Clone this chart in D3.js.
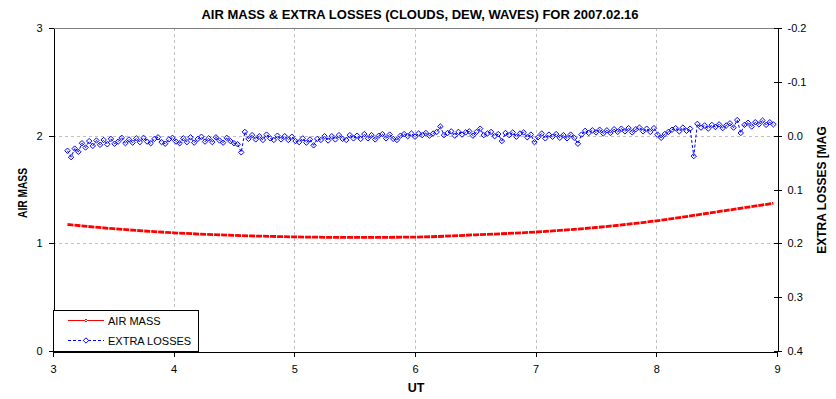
<!DOCTYPE html>
<html>
<head>
<meta charset="utf-8">
<script src="https://cdn.jsdelivr.net/npm/d3@7"></script>
<style>
  body { margin: 0; background: #fff; }
  svg { font-family: "Liberation Sans", Arial, sans-serif; }
  .grid line { stroke: #c0c0c0; stroke-dasharray: 3,3; shape-rendering: crispEdges; }
  .axis path, .axis line { stroke: #000; shape-rendering: crispEdges; }
  .axis text { font-family: "Liberation Sans", Arial, sans-serif; font-size: 11px; fill: #000; }
  .label { font-weight: bold; fill: #000; }
</style>
</head>
<body>
<div id="chart"></div>
<script>
const title = 'AIR MASS & EXTRA LOSSES (CLOUDS, DEW, WAVES) FOR 2007.02.16';

const xTicks = [3, 4, 5, 6, 7, 8, 9];
const airMassTicks = [0, 1, 2, 3];
const lossTicks = [-0.2, -0.1, 0.0, 0.1, 0.2, 0.3, 0.4];

// air mass
const airMassUt = [3.12, 3.5, 4.0, 4.5, 5.0, 5.5, 6.0, 6.5, 7.0, 7.5, 8.0, 8.5, 8.97];
const airMass = [1.175, 1.136, 1.098, 1.074, 1.060, 1.055, 1.058, 1.079, 1.105, 1.147, 1.209, 1.292, 1.372];

// extra losses [mag]
const lossUt = [
  3.12, 3.15, 3.18, 3.21, 3.24, 3.27, 3.30, 3.33, 3.36, 3.39,
  3.42, 3.45, 3.48, 3.51, 3.54, 3.57, 3.60, 3.63, 3.66, 3.69,
  3.72, 3.75, 3.78, 3.81, 3.84, 3.87, 3.90, 3.93, 3.96, 3.99,
  4.02, 4.05, 4.08, 4.11, 4.14, 4.17, 4.20, 4.23, 4.26, 4.29,
  4.32, 4.35, 4.38, 4.41, 4.44, 4.47, 4.50, 4.53, 4.56, 4.59,
  4.62, 4.65, 4.68, 4.71, 4.74, 4.77, 4.80, 4.83, 4.86, 4.89,
  4.92, 4.95, 4.98, 5.01, 5.04, 5.07, 5.10, 5.13, 5.16, 5.19,
  5.22, 5.25, 5.28, 5.31, 5.34, 5.37, 5.40, 5.43, 5.46, 5.49,
  5.52, 5.55, 5.58, 5.61, 5.64, 5.67, 5.70, 5.73, 5.76, 5.79,
  5.82, 5.85, 5.88, 5.91, 5.94, 5.97, 6.00, 6.03, 6.06, 6.09,
  6.12, 6.15, 6.18, 6.21, 6.24, 6.27, 6.30, 6.33, 6.36, 6.39,
  6.42, 6.45, 6.48, 6.51, 6.54, 6.57, 6.60, 6.63, 6.66, 6.69,
  6.72, 6.75, 6.78, 6.81, 6.84, 6.87, 6.90, 6.93, 6.96, 6.99,
  7.02, 7.05, 7.08, 7.11, 7.14, 7.17, 7.20, 7.23, 7.26, 7.29,
  7.32, 7.35, 7.38, 7.41, 7.44, 7.47, 7.50, 7.53, 7.56, 7.59,
  7.62, 7.65, 7.68, 7.71, 7.74, 7.77, 7.80, 7.83, 7.86, 7.89,
  7.92, 7.95, 7.98, 8.01, 8.04, 8.07, 8.10, 8.13, 8.16, 8.19,
  8.22, 8.25, 8.28, 8.31, 8.34, 8.37, 8.40, 8.43, 8.46, 8.49,
  8.52, 8.55, 8.58, 8.61, 8.64, 8.67, 8.70, 8.73, 8.76, 8.79,
  8.82, 8.85, 8.88, 8.91, 8.94, 8.97
];
const extraLoss = [
  0.028, 0.040, 0.024, 0.030, 0.014, 0.022, 0.010, 0.019, 0.009, 0.017,
  0.008, 0.016, 0.006, 0.015, 0.011, 0.004, 0.014, 0.007, 0.013, 0.005,
  0.012, 0.004, 0.011, 0.014, 0.006, 0.003, 0.012, 0.015, 0.007, 0.004,
  0.011, 0.014, 0.005, 0.012, 0.003, 0.013, 0.006, 0.002, 0.011, 0.005,
  0.012, 0.003, 0.009, 0.013, 0.004, 0.010, 0.014, 0.016, 0.031, -0.007,
  0.006, -0.001, 0.007, 0.001, 0.008, -0.002, 0.005, 0.008, 0.000, 0.007,
  0.001, 0.008, 0.002, 0.010, 0.012, 0.005, 0.013, 0.007, 0.018, 0.006,
  0.008, 0.001, 0.009, 0.001, 0.007, -0.001, 0.006, 0.008, -0.001, 0.005,
  0.000, 0.006, -0.003, 0.005, -0.001, 0.007, 0.000, -0.003, 0.005, -0.002,
  0.006, 0.008, 0.000, -0.003, 0.001, -0.004, 0.002, -0.004, -0.001, -0.005,
  0.000, -0.004, -0.007, -0.017, -0.001, -0.005, -0.008, 0.000, -0.007, -0.002,
  -0.006, -0.008, 0.000, -0.007, -0.013, -0.001, -0.004, -0.007, 0.001, -0.003,
  0.010, -0.005, -0.001, -0.006, 0.002, -0.004, -0.006, 0.003, -0.002, 0.012,
  0.003, -0.004, 0.005, -0.002, 0.002, -0.003, 0.004, -0.001, 0.005, -0.002,
  0.004, 0.015, -0.002, -0.009, -0.005, -0.010, -0.006, -0.011, -0.004, -0.010,
  -0.005, -0.012, -0.007, -0.013, -0.008, -0.014, -0.006, -0.012, -0.015, -0.008,
  -0.013, -0.007, -0.014, -0.002, 0.004, -0.003, -0.007, -0.011, -0.014, -0.008,
  -0.015, -0.009, -0.013, 0.038, -0.022, -0.015, -0.019, -0.013, -0.020, -0.016,
  -0.021, -0.014, -0.019, -0.023, -0.015, -0.029, -0.005, -0.020, -0.024, -0.017,
  -0.025, -0.021, -0.028, -0.020, -0.025, -0.021
];

const width = 836;
const height = 399;
const plot = {left: 53, right: 777, top: 28, bottom: 351};

const x = d3.scaleLinear().domain([3, 9]).range([plot.left, plot.right]);
const y = d3.scaleLinear().domain([0, 3]).range([plot.bottom, plot.top]);
const yLoss = d3.scaleLinear().domain([0.4, -0.2]).range([plot.bottom, plot.top]);

const svg = d3.select('#chart').append('svg')
    .attr('width', width)
    .attr('height', height);

// grid
const grid = svg.append('g').attr('class', 'grid');
grid.selectAll('.vgrid')
    .data(xTicks.slice(1, -1))
  .enter().append('line')
    .attr('x1', d => Math.round(x(d)) + 0.5)
    .attr('x2', d => Math.round(x(d)) + 0.5)
    .attr('y1', plot.top)
    .attr('y2', plot.bottom);
grid.selectAll('.hgrid')
    .data(airMassTicks.slice(1, -1))
  .enter().append('line')
    .attr('x1', plot.left)
    .attr('x2', plot.right)
    .attr('y1', d => Math.round(y(d)) + 0.5)
    .attr('y2', d => Math.round(y(d)) + 0.5);

svg.append('line')
    .attr('x1', plot.left).attr('x2', plot.right)
    .attr('y1', y(3) + 0.5).attr('y2', y(3) + 0.5)
    .attr('stroke', '#808080')
    .attr('shape-rendering', 'crispEdges');

// axes
svg.append('g')
    .attr('class', 'axis')
    .attr('transform', `translate(${plot.left + 0.5},0)`)
    .call(d3.axisLeft(y).tickValues(airMassTicks).tickSize(5).tickSizeOuter(0).tickPadding(6).tickFormat(d3.format('d')))
    .call(g => g.attr('font-family', null).attr('font-size', null));

svg.append('g')
    .attr('class', 'axis')
    .attr('transform', `translate(0,${plot.bottom + 0.5})`)
    .call(d3.axisBottom(x).tickValues(xTicks).tickSize(5).tickSizeOuter(0).tickPadding(9).tickFormat(d3.format('d')))
    .call(g => g.attr('font-family', null).attr('font-size', null));

svg.append('g')
    .attr('class', 'axis')
    .attr('transform', `translate(${plot.right + 0.5},0)`)
    .call(d3.axisRight(yLoss).tickValues(lossTicks).tickSize(4).tickSizeOuter(0).tickPadding(6).tickFormat(d => d.toFixed(1)))
    .call(g => g.attr('font-family', null).attr('font-size', null))
    .call(g => g.selectAll('.tick line').attr('x1', -4));

// air mass
const airLine = d3.line()
    .curve(d3.curveMonotoneX)
    .x((d, i) => x(airMassUt[i]))
    .y(d => y(d));

svg.append('path')
    .datum(airMass)
    .attr('fill', 'none')
    .attr('stroke', '#ff0000')
    .attr('stroke-width', 2.8)
    .attr('stroke-dasharray', '6,1')
    .attr('d', airLine);

// extra losses
const lossLine = d3.line()
    .x((d, i) => x(lossUt[i]))
    .y(d => yLoss(d));

svg.append('path')
    .datum(extraLoss)
    .attr('fill', 'none')
    .attr('stroke', '#0000ff')
    .attr('stroke-width', 1)
    .attr('stroke-dasharray', '3,2')
    .attr('d', lossLine);

const diamond = 'M0,-2.7L2.7,0L0,2.7L-2.7,0Z';

svg.append('g').selectAll('path')
    .data(extraLoss)
  .enter().append('path')
    .attr('d', diamond)
    .attr('transform', (d, i) => `translate(${x(lossUt[i])},${yLoss(d)})`)
    .attr('fill', 'none')
    .attr('stroke', '#0000ff')
    .attr('stroke-width', 1);

// legend
const legend = svg.append('g');
legend.append('rect')
    .attr('x', plot.left + 0.5)
    .attr('y', 310.5)
    .attr('width', 145)
    .attr('height', plot.bottom - 310)
    .attr('fill', '#fff')
    .attr('stroke', '#000')
    .attr('shape-rendering', 'crispEdges');

legend.append('line')
    .attr('x1', 68).attr('x2', 104).attr('y1', 320.5).attr('y2', 320.5)
    .attr('stroke', '#ff0000');
legend.append('path')
    .attr('d', 'M0,-1.5L1.5,0L0,1.5L-1.5,0Z')
    .attr('transform', 'translate(86,320.5)')
    .attr('fill', '#fff')
    .attr('stroke', '#ff0000');
legend.append('line')
    .attr('x1', 68).attr('x2', 104).attr('y1', 340.5).attr('y2', 340.5)
    .attr('stroke', '#0000ff')
    .attr('stroke-dasharray', '3,2');
legend.append('path')
    .attr('d', diamond)
    .attr('transform', 'translate(86,340.5)')
    .attr('fill', '#fff')
    .attr('stroke', '#0000ff');

legend.selectAll('text')
    .data(['AIR MASS', 'EXTRA LOSSES'])
  .enter().append('text')
    .attr('x', 108)
    .attr('y', (d, i) => 324.5 + i * 20)
    .attr('font-size', 11)
    .text(d => d);

// labels
svg.append('text')
    .attr('class', 'label')
    .attr('x', 420)
    .attr('y', 19)
    .attr('text-anchor', 'middle')
    .attr('font-size', 13)
    .text(title);

svg.append('text')
    .attr('class', 'label')
    .attr('x', 416)
    .attr('y', 392)
    .attr('text-anchor', 'middle')
    .attr('font-size', 12.5)
    .text('UT');

svg.append('text')
    .attr('class', 'label')
    .attr('transform', 'translate(26.5,193) rotate(-90)')
    .attr('text-anchor', 'middle')
    .attr('font-size', 12)
    .attr('textLength', 50)
    .attr('lengthAdjust', 'spacingAndGlyphs')
    .text('AIR MASS');

svg.append('text')
    .attr('class', 'label')
    .attr('transform', 'translate(826,190) rotate(-90)')
    .attr('text-anchor', 'middle')
    .attr('font-size', 12)
    .text('EXTRA LOSSES [MAG');
</script>
</body>
</html>
